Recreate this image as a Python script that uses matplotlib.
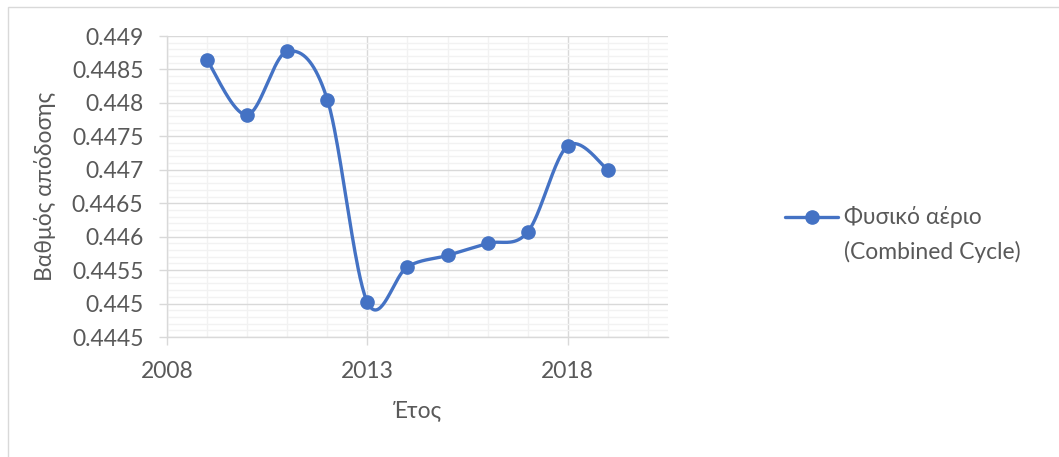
import numpy as np
import matplotlib
matplotlib.use("Agg")
import matplotlib.pyplot as plt
from matplotlib.patches import Rectangle
from matplotlib.lines import Line2D
from matplotlib.ticker import MultipleLocator, FormatStrFormatter

plt.rcParams['font.family'] = ['Lato', 'Noto Sans', 'DejaVu Sans']

years = [2009, 2010, 2011, 2012, 2013, 2014, 2015, 2016, 2017, 2018, 2019]
efficiency = [0.44864, 0.44782, 0.44877, 0.44805, 0.44502, 0.44555,
              0.44572, 0.44590, 0.44607, 0.44736, 0.44700]
series_label = ["Φυσικό αέριο", "(Combined Cycle)"]
x_title = "Έτος"
y_title = "Βαθμός απόδοσης"

LINE = "#4472C4"
TEXT = "#595959"
MAJOR = "#D9D9D9"
MINOR = "#F2F2F2"
FS = 16.5


def smooth_curve(xs, ys, steps=40):
    """Piecewise cubic Bezier through the points (Catmull-Rom style tangents)."""
    p = np.column_stack([xs, ys]).astype(float)
    n = len(p)
    out = []
    for i in range(n - 1):
        p0 = p[i - 1] if i > 0 else p[i]
        p1, p2 = p[i], p[i + 1]
        p3 = p[i + 2] if i + 2 < n else p[i + 1]
        c1 = p1 + (p2 - p0) / 6.0
        c2 = p2 - (p3 - p1) / 6.0
        t = np.linspace(0, 1, steps)[:, None]
        seg = ((1 - t) ** 3) * p1 + 3 * ((1 - t) ** 2) * t * c1 \
            + 3 * (1 - t) * t ** 2 * c2 + t ** 3 * p2
        out.append(seg if i == 0 else seg[1:])
    seg = np.vstack(out)
    return seg[:, 0], seg[:, 1]


W, H = 1059, 457
fig = plt.figure(figsize=(W / 100, H / 100), dpi=100)

# chart-area frame
fig.add_artist(Rectangle((8 / W, -0.1), 1.2, 1 - 7 / H + 0.1,
                         transform=fig.transFigure, fill=False,
                         edgecolor="#D9D9D9", linewidth=1.0))

ax = fig.add_axes([167 / W, 1 - 337 / H, (668 - 167) / W, (337 - 36) / H])

sx, sy = smooth_curve(years, efficiency)
ax.plot(sx, sy, color=LINE, linewidth=2.4, solid_capstyle="round", zorder=3)
ax.plot(years, efficiency, linestyle="none", marker="o", markersize=9.5,
        color=LINE, zorder=4)

ax.set_xlim(2008, 2020.5)
ax.set_ylim(0.4445, 0.449)
ax.xaxis.set_major_locator(MultipleLocator(5, offset=3))
ax.xaxis.set_minor_locator(MultipleLocator(1))
ax.yaxis.set_major_locator(MultipleLocator(0.0005))
ax.yaxis.set_minor_locator(MultipleLocator(0.0001))
ax.yaxis.set_major_formatter(FormatStrFormatter('%g'))

ax.grid(which="minor", color=MINOR, linewidth=1.0, zorder=0)
ax.grid(which="major", color=MAJOR, linewidth=1.0, zorder=1)
ax.set_axisbelow(True)

for side in ("top", "right"):
    ax.spines[side].set_visible(False)
for side in ("left", "bottom"):
    ax.spines[side].set_color(MAJOR)
    ax.spines[side].set_linewidth(1.0)

ax.tick_params(which="major", length=6, width=1.0, color=MAJOR,
               labelsize=FS, labelcolor=TEXT, pad=11)
ax.tick_params(which="minor", length=0)

fig.text(45 / W, 1 - 186 / H, y_title, rotation=90, ha="center", va="center",
         fontsize=FS, color=TEXT)
fig.text(417 / W, 1 - 411 / H, x_title, ha="center", va="center",
         fontsize=FS, color=TEXT)

# legend entry
ly = 1 - 217 / H
fig.add_artist(Line2D([785 / W, 838 / W], [ly, ly], transform=fig.transFigure,
                      color=LINE, linewidth=2.4, solid_capstyle="round"))
fig.add_artist(Line2D([812 / W], [ly], transform=fig.transFigure,
                      color=LINE, marker="o", markersize=9.5))
fig.text(844 / W, ly, series_label[0], ha="left", va="center",
         fontsize=FS, color=TEXT)
fig.text(844 / W, 1 - 252 / H, series_label[1], ha="left", va="center",
         fontsize=FS, color=TEXT)

fig.savefig("out.png", dpi=100)
